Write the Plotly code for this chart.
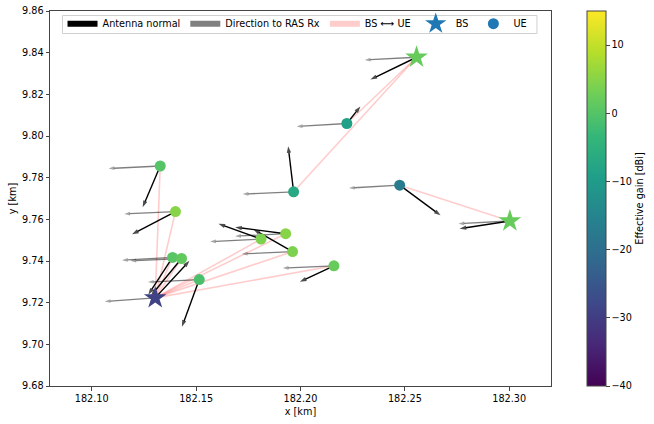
import plotly.graph_objects as go

# Base stations: position, effective gain, end of antenna normal, end of direction to RAS Rx
bs_x = [182.1304, 182.2556, 182.3003]
bs_y = [9.7223, 9.8378, 9.7592]
bs_gain = [-29, 2, 2]
bs_normal_x = [182.1468, 182.2335, 182.2762]
bs_normal_y = [9.7401, 9.8271, 9.7555]
bs_ras_x = [182.1062, 182.2308, 182.2757]
bs_ras_y = [9.7206, 9.8365, 9.7579]

# User equipment
ue_x = [182.1401, 182.1929, 182.1811, 182.1962, 182.2160, 182.1387, 182.1430, 182.1515, 182.1328, 182.1967, 182.2222, 182.2475]
ue_y = [9.7637, 9.7531, 9.7505, 9.7445, 9.7377, 9.7417, 9.7412, 9.7311, 9.7856, 9.7732, 9.8060, 9.7764]
ue_gain = [5, 5, 4, 4, 2, 0.5, 1.5, -1, 0, -7, -9, -17]
ue_bs = [0, 0, 0, 0, 0, 0, 0, 0, 0, 1, 1, 2]
ue_normal_x = [182.1193, 182.1687, 182.1607, 182.1774, 182.1997, 182.1271, 182.1284, 182.1432, 182.1244, 182.1941, 182.2287, 182.2671]
ue_normal_y = [9.7528, 9.7562, 9.7579, 9.7552, 9.7300, 9.7238, 9.7234, 9.7084, 9.7658, 9.7951, 9.8142, 9.7619]
ue_ras_x = [182.1156, 182.1687, 182.1567, 182.1719, 182.1915, 182.1145, 182.1185, 182.1269, 182.1081, 182.1723, 182.1982, 182.2232]
ue_ras_y = [9.7626, 9.7519, 9.7493, 9.7434, 9.7366, 9.7404, 9.7401, 9.7299, 9.7844, 9.7721, 9.8046, 9.7750]

x_ticks = [182.10, 182.15, 182.20, 182.25, 182.30]
y_ticks = [9.68, 9.70, 9.72, 9.74, 9.76, 9.78, 9.80, 9.82, 9.84, 9.86]
cbar_ticks = [-40, -30, -20, -10, 0, 10]
FONT = "DejaVu Sans"
FS = 9.7


def segments(x0, y0, x1, y1):
    xs, ys = [], []
    for a, b, c, d in zip(x0, y0, x1, y1):
        xs += [a, c, None]
        ys += [b, d, None]
    return xs, ys


def arrows(x1, y1, color, head, width):
    xs, ys = segments(bs_x + ue_x, bs_y + ue_y, x1, y1)
    sizes = [0, head, 0] * (len(xs) // 3)
    return go.Scatter(x=xs, y=ys, mode="lines+markers", showlegend=False, hoverinfo="skip",
                      line=dict(color=color, width=width),
                      marker=dict(symbol="arrow", angleref="previous", size=sizes, color=color,
                                  line=dict(width=0)))


def swatch(name, color):
    return go.Scatter(x=[None], y=[None], mode="lines", name=name, line=dict(color=color, width=6))


fig = go.Figure()
lx, ly = segments([bs_x[i] for i in ue_bs], [bs_y[i] for i in ue_bs], ue_x, ue_y)
fig.add_trace(go.Scatter(x=lx, y=ly, mode="lines", showlegend=False, hoverinfo="skip",
                         line=dict(color="rgba(255,0,0,0.2)", width=1.6)))
fig.add_trace(arrows(bs_ras_x + ue_ras_x, bs_ras_y + ue_ras_y, "rgba(0,0,0,0.5)", 6, 1.3))
fig.add_trace(arrows(bs_normal_x + ue_normal_x, bs_normal_y + ue_normal_y, "black", 7, 1.4))
fig.add_trace(go.Scatter(x=bs_x, y=bs_y, mode="markers", showlegend=False, hoverinfo="skip",
                         marker=dict(symbol="star", size=17, color=bs_gain, coloraxis="coloraxis",
                                     line=dict(width=0))))
fig.add_trace(go.Scatter(x=ue_x, y=ue_y, mode="markers", showlegend=False, hoverinfo="skip",
                         marker=dict(symbol="circle", size=11, color=ue_gain, coloraxis="coloraxis",
                                     line=dict(width=0))))

fig.add_trace(swatch("Antenna normal", "black"))
fig.add_trace(swatch("Direction to RAS Rx", "#808080"))
fig.add_trace(swatch("BS ⟷ UE", "#ffcccc"))
fig.add_trace(go.Scatter(x=[None], y=[None], mode="markers", name="BS",
                         marker=dict(symbol="star", size=20, color="#1f77b4")))
fig.add_trace(go.Scatter(x=[None], y=[None], mode="markers", name="UE",
                         marker=dict(symbol="circle", size=11, color="#1f77b4")))

axis = dict(showgrid=False, zeroline=False, showline=True, linecolor="#444", linewidth=1, mirror=True,
            ticks="outside", ticklen=3.5, tickwidth=0.8, tickcolor="#444",
            tickfont=dict(family=FONT, size=FS, color="black"))
fig.update_layout(
    width=654, height=424, autosize=False,
    margin=dict(l=49.5, r=103, t=10.5, b=37.5, autoexpand=False),
    paper_bgcolor="white", plot_bgcolor="white",
    font=dict(family=FONT, size=FS, color="black"),
    xaxis=dict(axis, range=[182.08, 182.32], tickvals=x_ticks, ticktext=[f"{v:.2f}" for v in x_ticks],
               title=dict(text="x [km]", font=dict(family=FONT, size=FS), standoff=5)),
    yaxis=dict(axis, range=[9.68, 9.86], tickvals=y_ticks, ticktext=[f"{v:.2f}" for v in y_ticks],
               title=dict(text="y [km]", font=dict(family=FONT, size=FS), standoff=3)),
    coloraxis=dict(cmin=-40, cmax=15, colorscale="Viridis",
                   colorbar=dict(x=1.0718, xanchor="left", xpad=0, ypad=0, y=0.5, yanchor="middle",
                                 len=1, lenmode="fraction", thickness=19, thicknessmode="pixels",
                                 outlinecolor="#444", outlinewidth=1,
                                 tickvals=cbar_ticks, ticks="outside", ticklen=3.5, tickwidth=0.8,
                                 tickcolor="#444", tickfont=dict(family=FONT, size=FS),
                                 title=dict(text="Effective gain [dBi]", side="right",
                                            font=dict(family=FONT, size=FS)))),
    legend=dict(orientation="h", x=0.025, xanchor="left", y=1.005, yanchor="top",
                bgcolor="rgba(0,0,0,0)", borderwidth=0,
                itemsizing="trace", font=dict(family=FONT, size=FS)),
    shapes=[dict(type="rect", xref="paper", yref="paper", x0=0.025, x1=0.972, y0=0.94, y1=0.988,
                 line=dict(color="#d0d0d0", width=1), fillcolor="rgba(255,255,255,0.8)", layer="above")],
)
fig.write_html("out.html", config=dict(displayModeBar=False),
               post_script="document.body.style.margin='0';")
